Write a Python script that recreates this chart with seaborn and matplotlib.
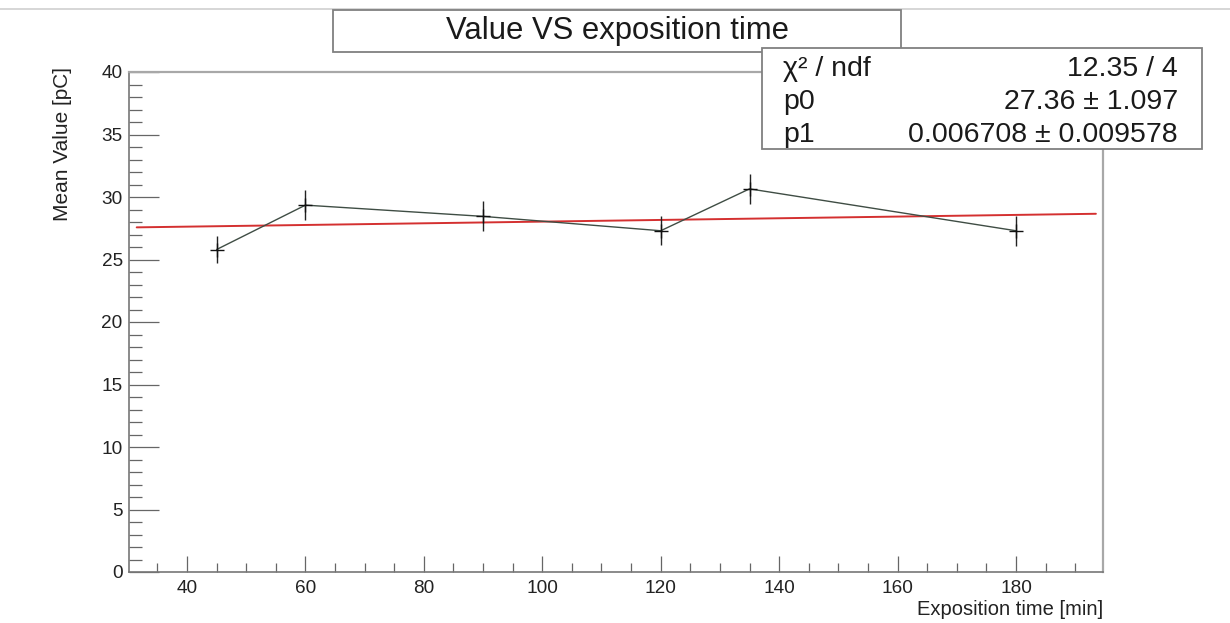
import matplotlib
matplotlib.use("Agg")
import matplotlib.pyplot as plt
import seaborn as sns
import numpy as np
import pandas as pd
from matplotlib.patches import Rectangle
from matplotlib.lines import Line2D
from matplotlib.ticker import MultipleLocator

# ---- data ----
times = [45, 60, 90, 120, 135, 180]
means = [25.8, 29.35, 28.45, 27.3, 30.65, 27.3]
errors = [1.05, 1.2, 1.2, 1.15, 1.2, 1.2]

fit_p0 = 27.36
fit_p1 = 0.006708
fit_range = [31.5, 193.5]

title = "Value VS exposition time"
xlabel = "Exposition time [min]"
ylabel = "Mean Value [pC]"
stats_labels = ["χ² / ndf", "p0", "p1"]
stats_values = ["12.35 / 4", "27.36 ± 1.097", "0.006708 ± 0.009578"]

xlim = [30.2, 194.7]
ylim = [0, 40]

# ---- style ----
sns.set_theme(style="white")
plt.rcParams["font.family"] = ["Liberation Sans", "DejaVu Sans"]

W, H = 1230, 623
fig = plt.figure(figsize=(W / 100, H / 100), dpi=100)
fig.patch.set_facecolor("white")

def fx(px):
    return px / W

def fy(py):
    return (H - py) / H

ax_l, ax_r, ax_t, ax_b = 129, 1103, 72, 572
ax = fig.add_axes([fx(ax_l), fy(ax_b), fx(ax_r - ax_l), (ax_b - ax_t) / H])

df = pd.DataFrame({"time": times, "mean": means, "err": errors})

# connecting line
sns.lineplot(data=df, x="time", y="mean", ax=ax, color="#3f4d44", lw=1.0,
             sort=False, zorder=3)
# error bars
ax.errorbar(df["time"], df["mean"], yerr=df["err"], fmt="none",
            ecolor="#222222", elinewidth=1.0, capsize=0, zorder=4)
# markers
sns.scatterplot(data=df, x="time", y="mean", ax=ax, marker="+", s=90,
                color="#111111", linewidth=1.0, zorder=5)

# fit line
fit_df = pd.DataFrame({"x": fit_range})
fit_df["y"] = fit_p0 + fit_p1 * fit_df["x"]
sns.lineplot(data=fit_df, x="x", y="y", ax=ax, color="#d43030", lw=1.4, zorder=2)

ax.set_xlim(xlim)
ax.set_ylim(ylim)
ax.set_xlabel("")
ax.set_ylabel("")

ax.xaxis.set_major_locator(MultipleLocator(20))
ax.xaxis.set_minor_locator(MultipleLocator(5))
ax.yaxis.set_major_locator(MultipleLocator(5))
ax.yaxis.set_minor_locator(MultipleLocator(1))

ax.tick_params(axis="y", which="major", direction="in", length=21.5, width=0.9,
               color="#666666", labelsize=13.7, pad=4.5, left=True, right=False,
               labelcolor="#222222")
ax.tick_params(axis="y", which="minor", direction="in", length=9.5, width=0.9,
               color="#666666", left=True, right=False)
ax.tick_params(axis="x", which="major", direction="in", length=11.3, width=0.9,
               color="#666666", labelsize=13.7, pad=6, bottom=True, top=False,
               labelcolor="#222222")
ax.tick_params(axis="x", which="minor", direction="in", length=6.5, width=0.9,
               color="#666666", bottom=True, top=False)

for side in ["left", "bottom"]:
    ax.spines[side].set_color("#777777")
    ax.spines[side].set_linewidth(1.2)
for side in ["top", "right"]:
    ax.spines[side].set_color("#a8a8a8")
    ax.spines[side].set_linewidth(1.6)
    ax.spines[side].set_visible(True)

# axis titles (ROOT style: aligned to the axis end)
fig.text(fx(ax_r), fy(615), xlabel, ha="right", va="baseline",
         fontsize=14.5, color="#222222")
fig.text(fx(62), fy(67), ylabel, rotation=90, ha="center", va="top",
         fontsize=15, color="#222222")

# faint canvas line on top
fig.add_artist(Line2D([0, 1], [fy(9), fy(9)], transform=fig.transFigure,
                      color="#d0d0d0", lw=1.2, zorder=1))

# title box
fig.add_artist(Rectangle((fx(333), fy(52)), fx(901 - 333), (52 - 10) / H,
                         transform=fig.transFigure, facecolor="white",
                         edgecolor="#808080", lw=1.3, zorder=5))
fig.text(fx(618), fy(38.5), title, ha="center", va="baseline", fontsize=22.3,
         color="#1a1a1a", zorder=6)

# stats box
fig.add_artist(Rectangle((fx(762), fy(149)), fx(1202 - 762), (149 - 48) / H,
                         transform=fig.transFigure, facecolor="white",
                         edgecolor="#808080", lw=1.3, zorder=10))
baselines = [76, 109, 142]
for lab, val, b in zip(stats_labels, stats_values, baselines):
    fig.text(fx(783), fy(b), lab, ha="left", va="baseline", fontsize=20.5,
             color="#1a1a1a", zorder=11)
    fig.text(fx(1178), fy(b), val, ha="right", va="baseline", fontsize=20.5,
             color="#1a1a1a", zorder=11)

fig.savefig("out.png", dpi=100)
